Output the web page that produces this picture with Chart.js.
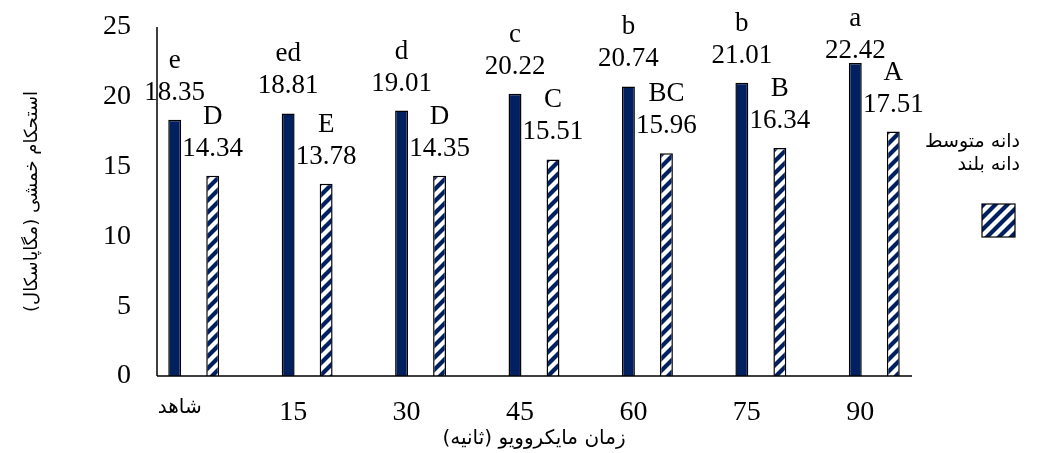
<!DOCTYPE html>
<html>
<head>
<meta charset="utf-8">
<script src="https://cdn.jsdelivr.net/npm/chart.js@4/dist/chart.umd.min.js"></script>
<style>
html, body { margin: 0; padding: 0; background: #fff; }
</style>
</head>
<body>
<canvas id="bar_chart1" width="1051" height="453"></canvas>
<script>
'use strict';
// data
const categories = ['شاهد', '15', '30', '45', '60', '75', '90'];
const mediumGrain = [18.35, 18.81, 19.01, 20.22, 20.74, 21.01, 22.42];
const longGrain = [14.34, 13.78, 14.35, 15.51, 15.96, 16.34, 17.51];
const mediumLetters = ['e', 'ed', 'd', 'c', 'b', 'b', 'a'];
const longLetters = ['D', 'E', 'D', 'C', 'BC', 'B', 'A'];
const seriesNames = ['دانه متوسط', 'دانه بلند'];
const xTitle = 'زمان مایکروویو (ثانیه)';
const yTitle = 'استحکام خمشی (مگاپاسکال)';
const yTicks = [0, 5, 10, 15, 20, 25];

const navy = '#002060';
const serif = '"Liberation Serif", "Times New Roman", serif';
const arabic = '"DejaVu Sans", sans-serif';

// diagonal hatch for the second series
function makeHatch() {
    let s = 12;
    let c = document.createElement('canvas');
    c.width = s;
    c.height = s;
    let g = c.getContext('2d');
    g.fillStyle = '#fff';
    g.fillRect(0, 0, s, s);
    g.strokeStyle = navy;
    g.lineWidth = 4.2;
    g.beginPath();
    g.moveTo(-s / 2, s / 2); g.lineTo(s / 2, -s / 2);
    g.moveTo(0, s); g.lineTo(s, 0);
    g.moveTo(s / 2, s * 1.5); g.lineTo(s * 1.5, s / 2);
    g.stroke();
    return g.createPattern(c, 'repeat');
}
const ctx = document.getElementById('bar_chart1').getContext('2d');
const hatch = makeHatch();

// letters + values above each bar, axis lines, x title and legend
const extras = {
    id: 'extras',
    afterDatasetsDraw(chart) {
        let c = chart.ctx;
        let area = chart.chartArea;
        c.save();
        c.fillStyle = '#000';
        c.textAlign = 'center';
        c.textBaseline = 'alphabetic';
        c.font = '27px ' + serif;
        let letters = [mediumLetters, longLetters];
        chart.data.datasets.forEach((ds, di) => {
            chart.getDatasetMeta(di).data.forEach((bar, i) => {
                let valueY = bar.y - 20;
                let letterY = valueY - 32;
                if (letterY < 26) {
                    letterY = 26;
                    valueY = letterY + 32;
                }
                c.fillText(ds.data[i].toFixed(2), bar.x, valueY);
                c.fillText(letters[di][i], bar.x, letterY);
            });
        });

        // axis lines
        let axisX = area.left + 20;
        c.strokeStyle = '#000';
        c.lineWidth = 1.5;
        c.beginPath();
        c.moveTo(axisX, area.top);
        c.lineTo(axisX, area.bottom);
        c.moveTo(axisX, area.bottom);
        c.lineTo(area.right - 19, area.bottom);
        c.stroke();

        // x axis title
        c.font = '20px ' + arabic;
        c.textBaseline = 'middle';
        c.fillText('\u200F' + xTitle + '\u200F', (area.left + area.right) / 2, 439);

        // legend
        c.textAlign = 'right';
        c.font = '19px ' + arabic;
        c.fillText('\u200F' + seriesNames[0] + '\u200F', 1020, 142);
        c.fillText('\u200F' + seriesNames[1] + '\u200F', 1020, 165);
        c.fillStyle = hatch;
        c.fillRect(982, 204, 33, 33);
        c.lineWidth = 1.2;
        c.strokeRect(982, 204, 33, 33);
        c.restore();
    }
};

let data = {
    labels: categories,
    datasets: [
        {
            label: seriesNames[0],
            data: mediumGrain,
            backgroundColor: navy,
            borderColor: '#000',
            borderWidth: 1.5,
            categoryPercentage: 0.67,
            barPercentage: 0.34
        },
        {
            label: seriesNames[1],
            data: longGrain,
            backgroundColor: hatch,
            borderColor: '#000',
            borderWidth: 1.5,
            categoryPercentage: 0.67,
            barPercentage: 0.34
        }
    ]
};

let config = {
    type: 'bar',
    data: data,
    options: {
        responsive: false,
        animation: false,
        layout: { padding: { top: 27, right: 120, left: 0, bottom: 0 } },
        plugins: {
            legend: { display: false },
            tooltip: { enabled: false }
        },
        scales: {
            x: {
                grid: { display: false, drawTicks: false },
                border: { display: false },
                ticks: {
                    color: '#000',
                    font: tick => tick.index === 0
                        ? { family: arabic, size: 20 }
                        : { family: serif, size: 28 },
                    padding: 20,
                    labelOffset: -14,
                    maxRotation: 0
                },
                afterFit: scale => { scale.height = 77; }
            },
            y: {
                min: 0,
                max: 25,
                grid: { display: false, drawTicks: false },
                border: { display: false },
                afterBuildTicks: scale => {
                    scale.ticks = yTicks.map(v => ({ value: v }));
                },
                ticks: {
                    color: '#000',
                    font: { family: serif, size: 28 },
                    padding: 6
                },
                title: {
                    display: true,
                    text: '\u200F' + yTitle + '\u200F',
                    color: '#000',
                    font: { family: arabic, size: 18 },
                    padding: { top: 22, bottom: 0 }
                },
                afterFit: scale => { scale.width = 137; }
            }
        }
    },
    plugins: [extras]
};
new Chart(ctx, config);
</script>
</body>
</html>
